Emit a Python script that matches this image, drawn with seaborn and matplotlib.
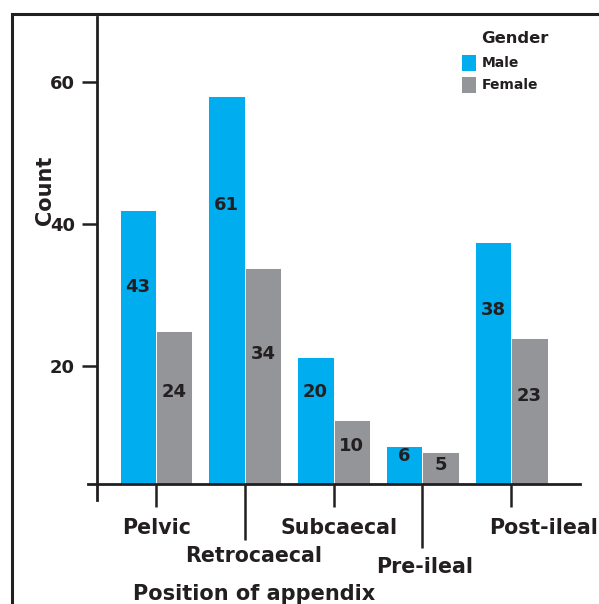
import matplotlib
matplotlib.use("Agg")
import matplotlib.pyplot as plt
import matplotlib.transforms as mtrans
from matplotlib.patches import Rectangle
import seaborn as sns
import pandas as pd

# ---------------- data ----------------
positions = ["Pelvic", "Retrocaecal", "Subcaecal", "Pre-ileal", "Post-ileal"]
genders = ["Male", "Female"]
male_counts = [43, 61, 20, 6, 38]
female_counts = [24, 34, 10, 5, 23]
y_tick_values = [20, 40, 60]

df = pd.DataFrame({
    "Position of appendix": positions * 2,
    "Gender": [genders[0]] * len(positions) + [genders[1]] * len(positions),
    "Count": male_counts + female_counts,
})

# ---------------- style ----------------
sns.set_theme(style="white")
plt.rcParams["font.family"] = ["DejaVu Sans"]
plt.rcParams["font.weight"] = "bold"
INK = "#231f20"
BLUE = "#00aeef"
GRAY = "#939598"

W, H = 599, 604
fig = plt.figure(figsize=(W / 100, H / 100), dpi=100)


def fx(px):
    return px / W


def fy(px):
    return 1 - px / H


ax = fig.add_axes([fx(88), fy(500), fx(580) - fx(88), fy(17) - fy(500)])
sns.barplot(data=df, x="Position of appendix", y="Count", hue="Gender",
            order=positions, hue_order=genders, palette=[BLUE, GRAY],
            saturation=1, width=0.82, edgecolor="white", linewidth=0.7,
            ax=ax)

ax.set_xlim(-0.766, 4.775)
ax.set_ylim(-2.55, 73.43)

for s in ["top", "right"]:
    ax.spines[s].set_visible(False)
for s in ["left", "bottom"]:
    ax.spines[s].set_linewidth(2)
    ax.spines[s].set_color(INK)
ax.spines["left"].set_position(("data", -0.664))
ax.spines["bottom"].set_position(("data", 0))
ax.set_yticks([])
ax.set_ylabel("")

# y ticks drawn on a twin axis (reference tick scale)
ax2 = ax.twinx()
ax2.set_ylim(1.127, 69.155)
ax2.set_yticks(y_tick_values)
ax2.set_yticklabels([str(v) for v in y_tick_values])
ax2.yaxis.set_ticks_position("left")
ax2.yaxis.set_label_position("left")
for s in ax2.spines.values():
    s.set_visible(False)
ax2.spines["left"].set_position(("data", -0.664))
ax2.tick_params(axis="y", left=True, right=False, labelleft=True, labelright=False,
                length=10.8, width=1.8, color=INK, labelsize=13, pad=5,
                labelcolor=INK)
ax2.set_ylabel("Count", fontsize=15, color=INK, fontweight="bold")
ax2.yaxis.label.set_verticalalignment("center")
ax2.yaxis.set_label_coords(-0.0874, 0.642)

# x ticks
ax.tick_params(axis="x", bottom=True, length=16.6, width=1.8, color=INK,
               labelsize=14.8, pad=7.9, labelcolor=INK)
ax.set_xlabel("Position of appendix", fontsize=15, color=INK, fontweight="bold")
ax.xaxis.set_label_coords(0.337, -0.174)

long_ticks = {1: (28.0, 40.3), 3: (36.0, 46.1)}
label_shift_px = [1, 9, 5, 2, 32]
ticks = ax.xaxis.get_major_ticks()
for i, t in enumerate(ticks):
    if i in long_ticks:
        pad, size = long_ticks[i]
        t.set_pad(pad)
        t.tick1line.set_markersize(size)
    lab = t.label1
    lab.set_transform(lab.get_transform() +
                      mtrans.ScaledTranslation(label_shift_px[i] / 100, 0,
                                               fig.dpi_scale_trans))

# bar value labels
label_frac = [0.72, 0.6]
for cont, vals, frac in zip(ax.containers, [male_counts, female_counts], label_frac):
    for bar, v in zip(cont, vals):
        ax.text(bar.get_x() + bar.get_width() / 2, bar.get_height() * frac,
                str(v), ha="center", va="center", fontsize=13,
                fontweight="bold", color=INK)

# legend
handles, labels = ax.get_legend_handles_labels()
ax.legend(handles, labels, title="Gender", loc="upper left",
          bbox_to_anchor=(fx(461), fy(34)), bbox_transform=fig.transFigure,
          frameon=False, borderpad=0, fontsize=10, title_fontsize=11.8,
          handlelength=1.1, handleheight=1.5, handletextpad=0.4,
          labelspacing=0.35, borderaxespad=0)
leg = ax.get_legend()
for txt in leg.get_texts():
    txt.set_color(INK)
leg.get_title().set_color(INK)
leg.get_title().set_fontweight("bold")
leg.get_title().set_x(15)
leg.get_title().set_y(3)

# outer frame
fig.add_artist(Rectangle((fx(12), -0.1), 1.2, fy(14) + 0.1,
                         transform=fig.transFigure, fill=False, lw=2.2,
                         edgecolor=INK, clip_on=False))

fig.savefig("out.png", dpi=100)
